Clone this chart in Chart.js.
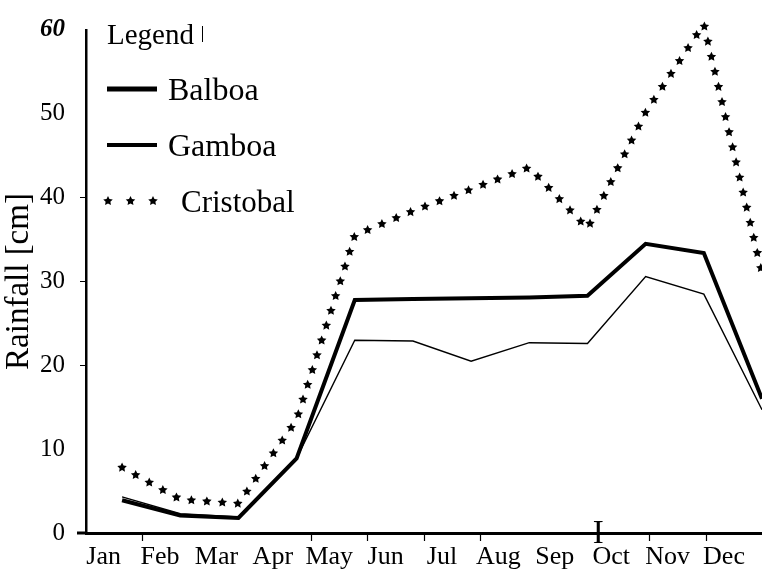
<!DOCTYPE html>
<html>
<head>
<meta charset="utf-8">
<title>Rainfall</title>
<script src="https://cdn.jsdelivr.net/npm/chart.js@4.4.0/dist/chart.umd.min.js"></script>
<style>
  html, body { margin: 0; padding: 0; background: #fff; }
  #chartDiv { width: 762px; height: 574px; }
</style>
</head>
<body>
<div id="chartDiv"><canvas id="rain" width="762" height="574"></canvas></div>
<script>
// monthly rainfall, cm
const months = ['Jan','Feb','Mar','Apr','May','Jun','Jul','Aug','Sep','Oct','Nov','Dec'];
const balboa = [3.9, 2.1, 1.8, 8.9, 27.8, 27.9, 28.0, 28.1, 28.3, 34.5, 33.4, 16.0];
const gamboa = [4.3, 2.3, 1.9, 8.9, 23.0, 22.9, 20.5, 22.7, 22.6, 30.6, 28.5, 14.7];
const cristobal = [7.8, 4.0, 3.5, 13.5, 35.5, 38.4, 41.0, 43.6, 36.3, 50.2, 60.7, 31.0];
const yTicks = [0, 10, 20, 30, 40, 50, 60];
const seriesNames = ['Balboa', 'Gamboa', 'Cristobal'];

const serif = '"Liberation Serif", "Times New Roman", serif';

// month marks sit a bit left of the labels, not on the data points
const tickStart = -0.626;
const tickStep = 0.9694;
const hiddenMarks = [0, 2, 3, 8, 9];
const yMarks = [20, 30, 40];

function toPoints(values){
    return values.map((v, i) => ({x: i, y: v}));
}

function drawStar(ctx, x, y, r){
    ctx.beginPath();
    for (let k = 0; k < 10; k++){
        let rad = k % 2 === 0 ? r : r * 0.5;
        let a = -Math.PI / 2 + k * Math.PI / 5;
        let px = x + rad * Math.cos(a);
        let py = y + rad * Math.sin(a);
        if (k === 0) ctx.moveTo(px, py); else ctx.lineTo(px, py);
    }
    ctx.closePath();
    ctx.fill();
}

// walks along the point elements of a dataset and drops stars on the path
const starLine = {
    id: 'starLine',
    afterDatasetsDraw(chart){
        const ctx = chart.ctx;
        chart.data.datasets.forEach((ds, di) => {
            if (!ds.starGap) return;
            const pts = chart.getDatasetMeta(di).data;
            ctx.save();
            ctx.fillStyle = ds.starColor;
            let carry = 0;
            for (let i = 0; i < pts.length - 1; i++){
                const a = pts[i], b = pts[i + 1];
                const len = Math.hypot(b.x - a.x, b.y - a.y);
                let d = carry;
                while (d <= len){
                    const t = d / len;
                    drawStar(ctx, a.x + (b.x - a.x) * t, a.y + (b.y - a.y) * t, ds.starSize);
                    d += ds.starGap;
                }
                carry = d - len;
            }
            ctx.restore();
        });
    }
};

const boxLegend = {
    id: 'boxLegend',
    afterDraw(chart){
        const ctx = chart.ctx;
        const ds = chart.data.datasets;
        const area = chart.chartArea;
        const left = area.left + 21;
        ctx.save();
        ctx.fillStyle = '#000';
        ctx.textAlign = 'left';
        ctx.textBaseline = 'alphabetic';
        ctx.font = '29px ' + serif;
        ctx.fillText('Legend', left, 44);
        ctx.fillRect(left + 95, 26, 1, 16);
        ctx.font = '32px ' + serif;
        [0, 1].forEach(k => {
            const y = 89 + 56 * k;
            ctx.strokeStyle = ds[k].borderColor;
            ctx.lineWidth = k === 0 ? 5 : 4;
            ctx.beginPath();
            ctx.moveTo(left, y);
            ctx.lineTo(left + 50, y);
            ctx.stroke();
            ctx.fillText(ds[k].label, left + 61, y + 11);
        });
        [0, 1, 2].forEach(k => drawStar(ctx, left + 1 + 22.5 * k, 201, ds[2].starSize));
        ctx.font = '31px ' + serif;
        ctx.fillText(ds[2].label, left + 74, 212);

        // x axis runs a little past the y axis on the left
        ctx.fillRect(area.left - 9, area.bottom - 1.5, 10, 3);

        // the odd tall mark over Oct
        const xs = chart.scales.x;
        const ox = xs.getPixelForValue(tickStart + tickStep * 9) + 5;
        ctx.font = '33px ' + serif;
        ctx.textAlign = 'center';
        ctx.fillText('I', ox, 543);
        ctx.restore();
    }
};

init();
function init(){
    const ctx = document.getElementById('rain').getContext('2d');
    new Chart(ctx, {
        type: 'line',
        data: {
            datasets: [{
                label: seriesNames[0],
                data: toPoints(balboa),
                borderColor: '#000',
                borderWidth: 4,
                pointRadius: 0,
                tension: 0
            }, {
                label: seriesNames[1],
                data: toPoints(gamboa),
                borderColor: '#000',
                borderWidth: 1.4,
                pointRadius: 0,
                tension: 0
            }, {
                label: seriesNames[2],
                data: toPoints(cristobal),
                showLine: false,
                pointRadius: 0,
                borderColor: '#000',
                starColor: '#000',
                starGap: 15.5,
                starSize: 5
            }]
        },
        options: {
            responsive: false,
            animation: false,
            layout: { padding: { top: 18, left: 0, right: 0, bottom: 0 } },
            plugins: {
                legend: { display: false },
                tooltip: { enabled: false }
            },
            scales: {
                x: {
                    type: 'linear',
                    min: -0.62,
                    max: 11,
                    afterBuildTicks: (scale) => {
                        scale.ticks = months.map((m, i) => ({ value: tickStart + tickStep * i }));
                    },
                    afterFit: (scale) => { scale.height = 41; },
                    border: { color: '#000', width: 3 },
                    grid: {
                        drawOnChartArea: false,
                        tickLength: 8,
                        tickWidth: 1.2,
                        color: (c) => hiddenMarks.includes(c.index) ? 'rgba(0,0,0,0)' : '#000'
                    },
                    ticks: {
                        callback: (v, i) => months[i],
                        labelOffset: 18,
                        padding: 1,
                        autoSkip: false,
                        maxRotation: 0,
                        color: '#000',
                        font: { family: serif, size: 26 }
                    }
                },
                y: {
                    min: 0,
                    max: 60,
                    afterBuildTicks: (scale) => {
                        scale.ticks = yTicks.map(v => ({ value: v }));
                    },
                    afterFit: (scale) => { scale.width = 86; },
                    border: { color: '#000', width: 2.5 },
                    grid: {
                        drawOnChartArea: false,
                        tickLength: 6,
                        color: (c) => c.tick && yMarks.includes(c.tick.value) ? '#000' : 'rgba(0,0,0,0)'
                    },
                    ticks: {
                        padding: 15,
                        color: '#000',
                        font: (c) => {
                            let top = c.tick && c.tick.value === 60;
                            return { family: serif, size: 25, style: top ? 'italic' : 'normal', weight: top ? 'bold' : 'normal' };
                        }
                    },
                    title: {
                        display: true,
                        text: 'Rainfall [cm]',
                        color: '#000',
                        font: { family: serif, size: 33 },
                        padding: { top: 0, bottom: 0 }
                    }
                }
            }
        },
        plugins: [starLine, boxLegend]
    });
}
</script>
</body>
</html>
